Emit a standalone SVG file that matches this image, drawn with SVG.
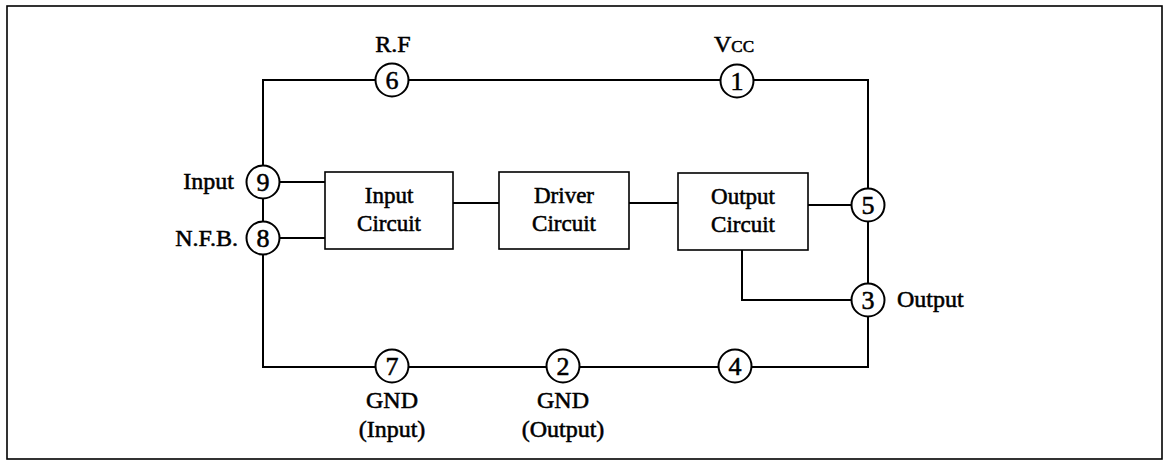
<svg xmlns="http://www.w3.org/2000/svg" width="1169" height="462" viewBox="0 0 1169 462">
<style>
.t{font-family:"Liberation Serif","Times New Roman",serif;font-size:24px;fill:#000;stroke:#000;stroke-width:0.55}
.b{font-size:23px}
.n{font-size:26px}
.m{text-anchor:middle}
.e{text-anchor:end}
.w{fill:none;stroke:#000;stroke-width:2}
.pin{fill:#fff;stroke:#000;stroke-width:2}
.box{fill:#fff;stroke:#000;stroke-width:1.6}
</style>
<rect x="0" y="0" width="1169" height="462" fill="#fff"/>
<rect x="7" y="6" width="1155" height="453" fill="none" stroke="#000" stroke-width="1.6"/>
<g id="connectors">
<path class="w" d="M263 182 V80 H868 V367 H263 Z"/>
<path class="w" d="M263 182 H325 M263 238 H325 M453 203 H499 M629 203 H678 M808 205 H868 M742 250 V300 H868"/>
</g>
<g id="box-input"><rect class="box" x="325" y="172" width="128" height="77"/><text class="t b m" x="389" y="203">Input</text><text class="t b m" x="389" y="231">Circuit</text></g>
<g id="box-driver"><rect class="box" x="499" y="172" width="130" height="77"/><text class="t b m" x="564" y="203">Driver</text><text class="t b m" x="564" y="231">Circuit</text></g>
<g id="box-output"><rect class="box" x="678" y="173" width="130" height="77"/><text class="t b m" x="743" y="204">Output</text><text class="t b m" x="743" y="232">Circuit</text></g>
<g id="pin6"><circle class="pin" cx="392" cy="80" r="16.5"/><text class="t n m" x="392" y="89">6</text><text class="t m" x="393" y="52">R.F</text></g>
<g id="pin1"><circle class="pin" cx="737" cy="81" r="16.5"/><text class="t n m" x="737" y="90">1</text><text class="t" x="714" y="52">V<tspan font-size="17">CC</tspan></text></g>
<g id="pin9"><circle class="pin" cx="263" cy="182" r="16.5"/><text class="t n m" x="263" y="191">9</text><text class="t e" x="234" y="189">Input</text></g>
<g id="pin8"><circle class="pin" cx="263" cy="238" r="16.5"/><text class="t n m" x="263" y="247">8</text><text class="t e" x="238" y="246">N.F.B.</text></g>
<g id="pin5"><circle class="pin" cx="868" cy="205" r="16.5"/><text class="t n m" x="868" y="214">5</text></g>
<g id="pin3"><circle class="pin" cx="868" cy="300" r="16.5"/><text class="t n m" x="868" y="309">3</text><text class="t" x="897" y="307">Output</text></g>
<g id="pin7"><circle class="pin" cx="392" cy="366" r="16.5"/><text class="t n m" x="392" y="375">7</text><text class="t m" x="392" y="408">GND</text><text class="t m" x="392" y="437">(Input)</text></g>
<g id="pin2"><circle class="pin" cx="563" cy="366" r="16.5"/><text class="t n m" x="563" y="375">2</text><text class="t m" x="563" y="408">GND</text><text class="t m" x="563" y="437">(Output)</text></g>
<g id="pin4"><circle class="pin" cx="735" cy="366" r="16.5"/><text class="t n m" x="735" y="375">4</text></g>
</svg>
